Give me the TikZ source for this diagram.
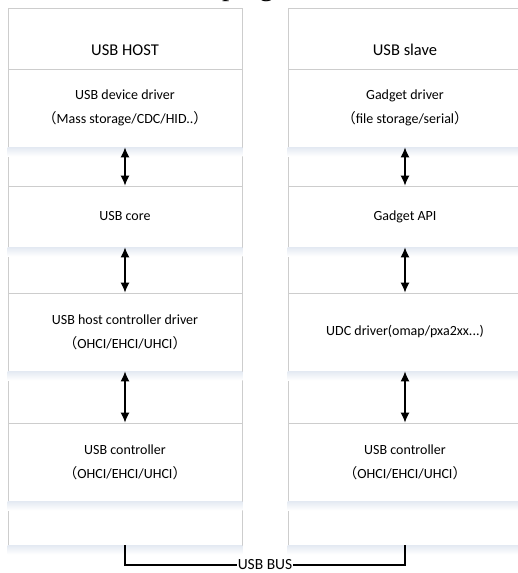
\documentclass[tikz,border=0pt]{standalone}
\usepackage{fontspec}
\setmainfont{Carlito}
\newfontfamily\cjk{Noto Sans CJK SC}
\newfontfamily\capfont{Liberation Serif}
\usetikzlibrary{arrows.meta}
\definecolor{framegray}{RGB}{205,205,205}
\definecolor{shadeblue}{RGB}{229,235,243}
\newcommand{\openpar}{{\cjk （}}
\newcommand{\closepar}{{\cjk ）}}

\begin{document}
\begin{tikzpicture}[x=1pt, y=-1pt,
    frame/.style={rectangle, draw=framegray, line width=0.8pt, minimum width=234pt, minimum height=537pt, inner sep=0pt},
    layer/.style={rectangle, draw=framegray, line width=0.8pt, minimum width=234pt, inner sep=0pt, align=center, font=\fontsize{14}{24}\selectfont},
    title/.style={font=\fontsize{16.5}{20}\selectfont},
    arrow/.style={{Latex[length=10pt,width=9pt]}-{Latex[length=10pt,width=9pt]}, line width=1.2pt},
    bus/.style={line width=1.1pt}
]
\useasboundingbox (0,0) rectangle (517,573);

% === LAYOUT (1pt = 1px of the reference, y grows downwards) ===
% Host column centred at x=125, slave column at x=405, both 234 wide
% Layer rows: 69-147, 186-247, 293-371, 423-501
% Bus runs at y=565 below the two frames

% Caption cut off at the top edge
\node[font=\capfont\fontsize{29}{30}\selectfont, anchor=base west, inner sep=0pt] (caption) at (222, -4.5) {ping};

% Outer frames
\node[frame] (hostframe) at (125, 276.5) {};
\node[frame] (slaveframe) at (405, 276.5) {};

\node[title] (hosttitle) at (125, 50) {USB HOST};
\node[title] (slavetitle) at (405, 50) {USB slave};

% Host stack
\node[layer, minimum height=78pt] (devdrv) at (125, 108) {USB device driver\\\openpar Mass storage/CDC/HID..\closepar};
\node[layer, minimum height=61pt] (core) at (125, 216.5) {USB core};
\node[layer, minimum height=78pt] (hcd) at (125, 332) {USB host controller driver\\\openpar OHCI/EHCI/UHCI\closepar};
\node[layer, minimum height=78pt] (hostctrl) at (125, 462) {USB controller\\\openpar OHCI/EHCI/UHCI\closepar};

% Slave stack
\node[layer, minimum height=78pt] (gadget) at (405, 108) {Gadget driver\\\openpar file storage/serial\closepar};
\node[layer, minimum height=61pt] (gadgetapi) at (405, 216.5) {Gadget API};
\node[layer, minimum height=78pt] (udc) at (405, 332) {UDC driver(omap/pxa2xx...)};
\node[layer, minimum height=78pt] (slavectrl) at (405, 462) {USB controller\\\openpar OHCI/EHCI/UHCI\closepar};

% Soft shadows under each box
\foreach \b in {devdrv, core, hcd, hostctrl, gadget, gadgetapi, udc, slavectrl, hostframe, slaveframe} {
    \shade[top color=shadeblue, bottom color=white] ([yshift=-0.4pt]\b.south west) rectangle ([yshift=-9pt]\b.south east);
}

% Arrows between layers
\foreach \a/\b in {devdrv/core, core/hcd, hcd/hostctrl, gadget/gadgetapi, gadgetapi/udc, udc/slavectrl} {
    \draw[arrow] (\a.south) -- (\b.north);
}

% USB bus
\node[font=\fontsize{15.5}{18}\selectfont, inner sep=1pt] (bus) at (265, 565) {USB BUS};
\draw[bus] (hostframe.south) |- (bus.west);
\draw[bus] (bus.east) -| (slaveframe.south);

\end{tikzpicture}
\end{document}
